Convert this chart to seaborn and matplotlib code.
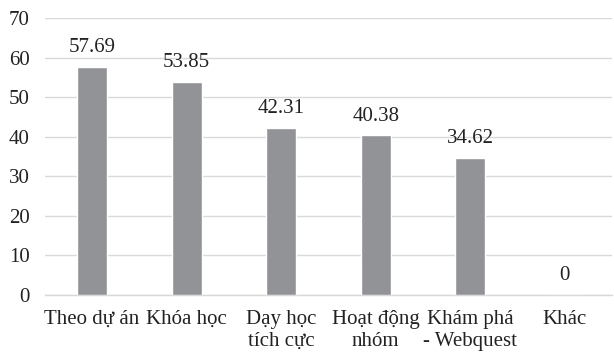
import matplotlib
matplotlib.use("Agg")
import matplotlib.pyplot as plt
import seaborn as sns
import pandas as pd

categories = ["Theo dự án", "Khóa học", "Dạy học\ntích cực", "Hoạt động\nnhóm",
              "Khám phá\n- Webquest", "Khác"]
values = [57.69, 53.85, 42.31, 40.38, 34.62, 0]
y_ticks = [0, 10, 20, 30, 40, 50, 60, 70]

sns.set_theme(style="white")
plt.rcParams["font.family"] = ["Liberation Serif", "DejaVu Serif"]

df = pd.DataFrame({"cat": categories, "val": values})

fig = plt.figure(figsize=(6.14, 3.52), dpi=100)
ax = fig.add_axes([0.073, 0.162, 0.924, 0.787])

sns.barplot(data=df, x="cat", y="val", color="#929396", width=0.32,
            saturation=1, ax=ax, zorder=3)

for i, v in enumerate(values):
    ax.text(i, v + 2.4, f"{v:g}" if v == 0 else f"{v:.2f}", ha="center", va="bottom",
            fontsize=15, color="#222222")

ax.set_ylim(0, 70)
ax.set_yticks(y_ticks)
ax.yaxis.grid(True, color="#d9d9d9", linewidth=1, zorder=0)
ax.set_axisbelow(True)
for s in ["top", "right", "left"]:
    ax.spines[s].set_visible(False)
ax.spines["bottom"].set_color("#d9d9d9")
ax.spines["bottom"].set_linewidth(1)
ax.tick_params(axis="both", length=0, labelsize=15, colors="#222222")
ax.tick_params(axis="y", pad=11)
ax.tick_params(axis="x", pad=11)
ax.set_xlabel("")
ax.set_ylabel("")
for lbl in ax.get_xticklabels():
    lbl.set_linespacing(1.2)

fig.savefig("out.png", dpi=100)
